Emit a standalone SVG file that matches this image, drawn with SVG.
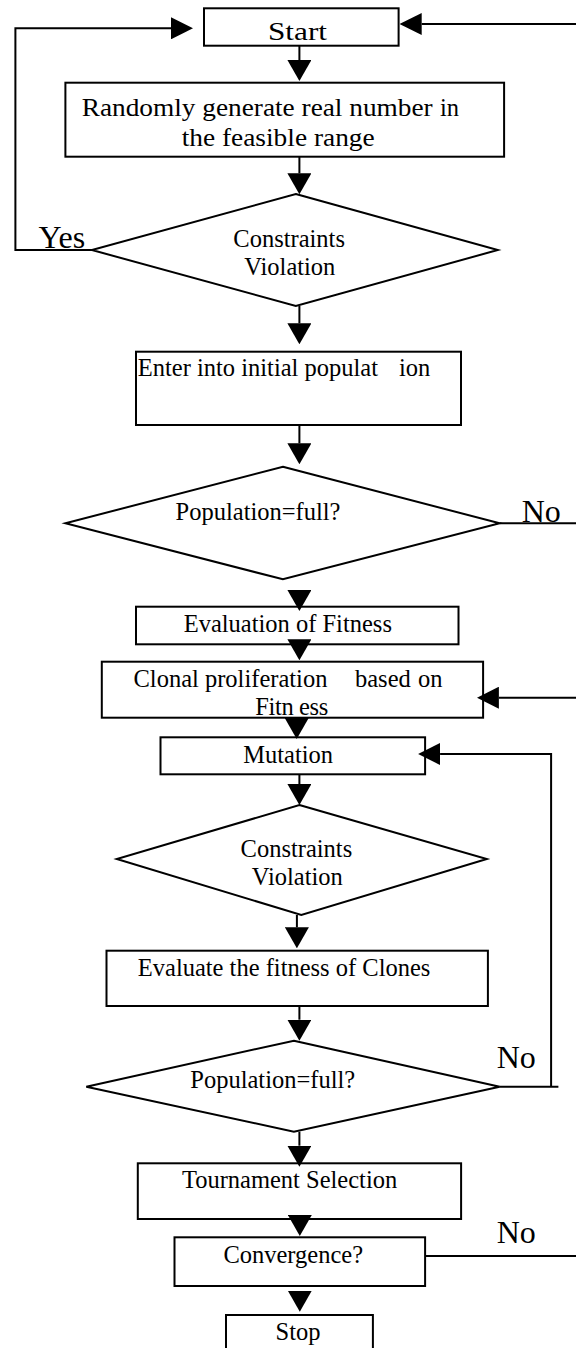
<svg xmlns="http://www.w3.org/2000/svg" width="576" height="1348" viewBox="0 0 576 1348">
<style>
.box{fill:#fff;stroke:#000;stroke-width:2}
.ln{fill:none;stroke:#000;stroke-width:2}
.nl{fill:none;stroke:none}
.t{font-family:"Liberation Serif","Times New Roman",serif;fill:#000;font-size:24.5px}
.big{font-size:32px}
</style>
<defs>
<marker id="av" viewBox="0 0 21 24" refX="0" refY="12" markerWidth="21" markerHeight="24" markerUnits="userSpaceOnUse" orient="auto"><path d="M0,0L21,12L0,24z" fill="#000"/></marker>
<marker id="ah" viewBox="0 0 22 22" refX="0" refY="11" markerWidth="22" markerHeight="22" markerUnits="userSpaceOnUse" orient="auto"><path d="M0,0L22,11L0,22z" fill="#000"/></marker>
</defs>
<rect width="576" height="1348" fill="#fff"/>
<g id="start"><rect class="box" x="204" y="8.3" width="194.6" height="37.4"/><text class="t" x="268" y="39.5" font-size="30" textLength="59" lengthAdjust="spacingAndGlyphs">Start</text></g>
<g id="generate"><rect class="box" x="65.4" y="82.7" width="438.7" height="74"/><text class="t" x="81.7" y="116" font-size="26" textLength="351" lengthAdjust="spacingAndGlyphs">Randomly generate real number</text><text class="t" x="440" y="116" font-size="33">in</text><text class="t" x="181.7" y="145.5" font-size="26" textLength="193" lengthAdjust="spacingAndGlyphs">the feasible range</text></g>
<g id="check1"><polygon class="box" points="295.8,194 497.8,250 295.8,306 91.9,250"/><text class="t" x="233.3" y="246.7">Constraints</text><text class="t" x="244.3" y="275">Violation</text></g>
<g id="enter"><rect class="box" x="136" y="351.7" width="325" height="73.3"/><text class="t" x="137.8" y="375.5" font-size="26">Enter into initial populat</text><text class="t" x="399" y="375.5" font-size="26">ion</text></g>
<g id="full1"><polygon class="box" points="282.9,466.7 499.7,523.3 282.9,579.3 65.4,523.3"/><text class="t" x="175.6" y="520">Population=full?</text></g>
<g id="evaluation"><rect class="box" x="136" y="606.7" width="322.5" height="37.6"/><text class="t" x="183.7" y="632.3">Evaluation of Fitness</text></g>
<g id="clonal"><rect class="box" x="101.8" y="661.7" width="381.3" height="56"/><text class="t" x="133.5" y="687">Clonal proliferation</text><text class="t" x="355" y="687">based</text><text class="t" x="418" y="687">on</text><text class="t" x="255.3" y="715" textLength="73" lengthAdjust="spacing">Fitn ess</text></g>
<g id="mutation"><rect class="box" x="160.5" y="737.3" width="264.6" height="37"/><text class="t" x="243.2" y="763.3">Mutation</text></g>
<g id="check2"><polygon class="box" points="299.4,805 486.8,859 301.3,915 116.8,859"/><text class="t" x="240.6" y="856.7">Constraints</text><text class="t" x="251.7" y="885">Violation</text></g>
<g id="evaluate"><rect class="box" x="106.5" y="950.7" width="381.4" height="55.3"/><text class="t" x="137.8" y="976">Evaluate the fitness of Clones</text></g>
<g id="full2"><polygon class="box" points="293.9,1040.7 499.7,1086.7 293.9,1131.7 86.3,1086.7"/><text class="t" x="190.3" y="1088.3">Population=full?</text></g>
<g id="tournament"><rect class="box" x="137.8" y="1163.3" width="323.3" height="55.7"/><text class="t" x="181.9" y="1188.3">Tournament Selection</text></g>
<g id="convergence"><rect class="box" x="174.5" y="1237.3" width="250.6" height="48.7"/><text class="t" x="223.4" y="1263.3">Convergence?</text></g>
<g id="stop"><rect class="box" x="226" y="1315" width="146.9" height="40"/><text class="t" x="275.6" y="1340">Stop</text></g>
<g id="connectors">
<path class="ln" d="M299.4,45.7V60" marker-end="url(#av)"/>
<path class="ln" d="M299.4,156.7V173.3" marker-end="url(#av)"/>
<path class="ln" d="M299.4,306V323.3" marker-end="url(#av)"/>
<path class="ln" d="M299.4,425V443.3" marker-end="url(#av)"/>
<path class="nl" d="M299.4,589V590" marker-end="url(#av)"/>
<path class="nl" d="M299.4,638.3V639.3" marker-end="url(#av)"/>
<path class="nl" d="M296.7,717V718" marker-end="url(#av)"/>
<path class="ln" d="M299.4,774.3V784" marker-end="url(#av)"/>
<path class="ln" d="M296.9,915V927.3" marker-end="url(#av)"/>
<path class="ln" d="M299.4,1006V1019.7" marker-end="url(#av)"/>
<path class="ln" d="M299.4,1131.7V1145.7" marker-end="url(#av)"/>
<path class="nl" d="M299.8,1214V1215" marker-end="url(#av)"/>
<path class="nl" d="M299.8,1289.7V1290.7" marker-end="url(#av)"/>
<path class="ln" d="M91.9,250H15.4V28.3H171" marker-end="url(#ah)"/>
<path class="ln" d="M576,24H421.7" marker-end="url(#ah)"/>
<path class="ln" d="M499.7,523.3H576"/>
<path class="ln" d="M576,697.7H498.9" marker-end="url(#ah)"/>
<path class="ln" d="M499.7,1086.7H558.4M551.1,1086.7V754H440.1" marker-end="url(#ah)"/>
<path class="ln" d="M425.1,1256H576"/>
</g>
<g id="labels">
<text class="t big" x="38.6" y="248.3">Yes</text>
<text class="t big" x="521.7" y="521.7">No</text>
<text class="t big" x="496.7" y="1068.3">No</text>
<text class="t big" x="496.7" y="1243.3">No</text>
</g>
</svg>
